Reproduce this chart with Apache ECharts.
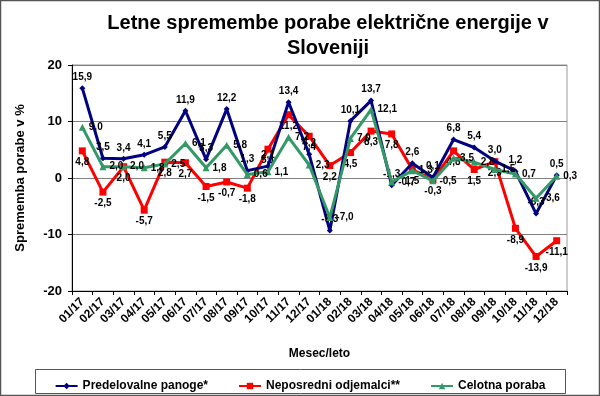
<!DOCTYPE html>
<html>
<head>
<meta charset="utf-8">
<script src="https://cdn.jsdelivr.net/npm/echarts@6/dist/echarts.min.js"></script>
<style>
  html, body { margin: 0; padding: 0; background: #fff; }
  #chart { width: 600px; height: 396px; }
</style>
</head>
<body>
<div id="chart"></div>
<script>
const months = ['01/17','02/17','03/17','04/17','05/17','06/17','07/17','08/17','09/17','10/17','11/17','12/17',
  '01/18','02/18','03/18','04/18','05/18','06/18','07/18','08/18','09/18','10/18','11/18','12/18'];
const predelovalne = [15.9, 3.5, 3.4, 4.1, 5.5, 11.9, 3.3, 12.2, 1.3, 2.1, 13.4, 4.2,
  -9.3, 10.1, 13.7, -1.3, 2.6, 0.1, 6.8, 5.4, 3.0, 1.2, -6.3, 0.5];
const neposredni = [4.8, -2.5, 2.0, -5.7, 2.8, 2.7, -1.5, -0.7, -1.8, 5.1, 11.2, 7.4,
  2.2, 4.5, 8.3, 7.8, 1.5, -0.3, 4.8, 1.5, 2.9, -8.9, -13.9, -11.1];
const celotna = [9.0, 2.0, 2.0, 1.8, 2.5, 6.1, 1.8, 5.8, 0.6, 1.1, 7.2, 2.3,
  -7.0, 7.0, 12.1, -0.7, 1.3, -0.5, 3.5, 2.8, 1.5, 0.7, -3.6, 0.3];
const yTicks = [-20, -10, 0, 10, 20];

const chart = echarts.init(document.getElementById('chart'));
const fmt = p => p.value.toFixed(1).replace('.', ',');
const lbl = pos => ({
  show: true, position: pos, distance: 3, formatter: fmt,
  fontFamily: 'Arial', fontWeight: 'bold', fontSize: 10, color: '#000'
});

const option = {
  animation: false,
  title: {
    text: 'Letne spremembe porabe električne energije v\nSloveniji',
    left: 323, top: 6, textAlign: 'center',
    textStyle: { fontFamily: 'Arial', fontWeight: 'bold', fontSize: 20, lineHeight: 25, color: '#000' }
  },
  legend: {
    left: 'center', top: 375, itemGap: 30, itemWidth: 22, itemHeight: 8,
    textStyle: { fontFamily: 'Arial', fontWeight: 'bold', fontSize: 12, color: '#000' },
    data: ['Predelovalne panoge*', 'Neposredni odjemalci**', 'Celotna poraba']
  },
  graphic: [
    { type: 'rect', shape: { x: 0.5, y: 0.5, width: 599, height: 395 },
      style: { fill: 'none', stroke: '#555', lineWidth: 1.5 }, silent: true },
    { type: 'rect', shape: { x: 35.5, y: 369.5, width: 530, height: 24 },
      style: { fill: 'none', stroke: '#555', lineWidth: 1 }, silent: true, z: -1 }
  ],
  grid: { left: 72, right: 33, top: 65, bottom: 105, show: true, borderColor: '#999', borderWidth: 1 },
  xAxis: {
    type: 'category', data: months, boundaryGap: true,
    name: 'Mesec/leto', nameLocation: 'middle', nameGap: 57,
    nameTextStyle: { fontFamily: 'Arial', fontWeight: 'bold', fontSize: 12, color: '#000' },
    axisLine: { onZero: false, lineStyle: { color: '#000' } },
    axisTick: { show: true, length: 4, lineStyle: { color: '#000' } },
    axisLabel: { rotate: 45, fontFamily: 'Arial', fontWeight: 'bold', fontSize: 12, color: '#000', margin: 9, interval: 0 }
  },
  yAxis: {
    type: 'value', min: yTicks[0], max: yTicks[yTicks.length - 1], interval: 10,
    name: 'Sprememba porabe v %', nameLocation: 'middle', nameGap: 45,
    nameTextStyle: { fontFamily: 'Arial', fontWeight: 'bold', fontSize: 13, color: '#000' },
    axisLine: { show: true, lineStyle: { color: '#000' } },
    axisTick: { show: true, length: 4, lineStyle: { color: '#000' } },
    axisLabel: { fontFamily: 'Arial', fontWeight: 'bold', fontSize: 13, color: '#000', margin: 10 },
    splitLine: { lineStyle: { color: '#808080' } }
  },
  series: [
    {
      name: 'Predelovalne panoge*', type: 'line', data: predelovalne,
      symbol: 'diamond', symbolSize: 6, z: 3,
      lineStyle: { color: '#000080', width: 3 }, itemStyle: { color: '#000080' },
      label: lbl('top')
    },
    {
      name: 'Neposredni odjemalci**', type: 'line', data: neposredni,
      symbol: 'rect', symbolSize: 7, z: 2,
      lineStyle: { color: '#ff0000', width: 3 }, itemStyle: { color: '#ff0000' },
      label: lbl('bottom')
    },
    {
      name: 'Celotna poraba', type: 'line', data: celotna,
      symbol: 'triangle', symbolSize: 7, z: 4,
      lineStyle: { color: '#339966', width: 3 }, itemStyle: { color: '#339966' },
      label: lbl('right')
    }
  ]
};
chart.setOption(option);
</script>
</body>
</html>
